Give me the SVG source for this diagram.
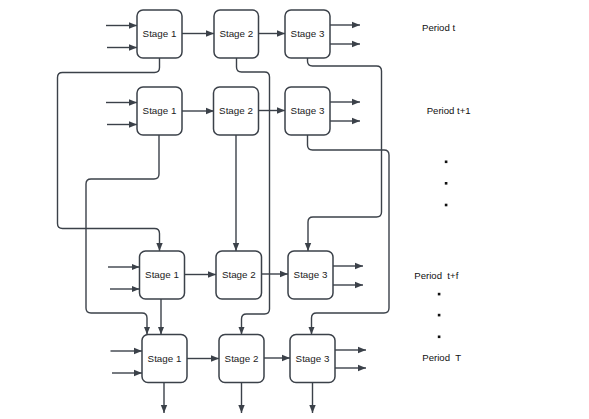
<svg xmlns="http://www.w3.org/2000/svg" width="589" height="419" viewBox="0 0 589 419">
<style>
.box{fill:#fff;stroke:#3b4149;stroke-width:1.5}
.lbl{font-family:"Liberation Sans",Arial,sans-serif;font-size:9.8px;fill:#1a1a1a;text-anchor:middle}
.per{font-family:"Liberation Sans",Arial,sans-serif;font-size:9.6px;fill:#111;white-space:pre}
.ln{fill:none;stroke:#3b4149;stroke-width:1.4;marker-end:url(#ah)}
.dot{fill:#111}
</style>
<defs>
<marker id="ah" markerUnits="userSpaceOnUse" markerWidth="8" markerHeight="8" viewBox="0 0 8 8" refX="8" refY="4" orient="auto">
<path d="M0,0.8 L8,4 L0,7.2 Z" fill="#3b4149"/>
</marker>
</defs>
<rect width="589" height="419" fill="#fff"/>
<g id="connectors">
<path class="ln" d="M106 25.5H137"/><path class="ln" d="M107 47.5H137"/>
<path class="ln" d="M182 33.5H214"/><path class="ln" d="M258 33.5H285"/>
<path class="ln" d="M330 25H360"/><path class="ln" d="M330 44H360"/>
<path class="ln" d="M106 102.5H137"/><path class="ln" d="M107 124.5H137"/>
<path class="ln" d="M182 111H214"/><path class="ln" d="M258 110.5H285"/>
<path class="ln" d="M330 102H360"/><path class="ln" d="M330 121H360"/>
<path class="ln" d="M108 267H139.5"/><path class="ln" d="M110 289H139.5"/>
<path class="ln" d="M184.5 274.5H216"/><path class="ln" d="M261.5 274H288"/>
<path class="ln" d="M333 266H363"/><path class="ln" d="M333 285H363"/>
<path class="ln" d="M110.5 351H142"/><path class="ln" d="M112 373H142"/>
<path class="ln" d="M187 358.5H219"/><path class="ln" d="M264 358H290"/>
<path class="ln" d="M335 350H366"/><path class="ln" d="M335 368H366"/>
<path class="ln" d="M164 382.5V413"/><path class="ln" d="M241.5 382.5V413"/><path class="ln" d="M312.5 382.5V413"/>
<path class="ln" d="M159.5 58V67.5Q159.5 72.5 154.5 72.5H62.5Q57.5 72.5 57.5 77.5V223.5Q57.5 228.5 62.5 228.5H154.5Q159.5 228.5 159.5 233.5V251"/>
<path class="ln" d="M236.5 58V67Q236.5 72 241.5 72H264.5Q269.5 72 269.5 77V309Q269.5 314 264.5 314H246.5Q241.5 314 241.5 319V334.5"/>
<path class="ln" d="M307.5 58V61Q307.5 66 312.5 66H376.5Q381.5 66 381.5 71V212Q381.5 217 376.5 217H313Q308 217 308 222V251"/>
<path class="ln" d="M159 135V174Q159 179 154 179H91Q86 179 86 184V308Q86 313 91 313H142Q147 313 147 318V334.5"/>
<path class="ln" d="M236 135V251"/>
<path class="ln" d="M307.5 135V145Q307.5 150 312.5 150H384Q389 150 389 155V308Q389 313 384 313H316.5Q311.5 313 311.5 318V334.5"/>
<path class="ln" d="M161 299V334.5"/>
</g>
<g id="r1s1"><rect class="box" x="137" y="10" width="45" height="48" rx="6"/><text class="lbl" x="159.5" y="37.3">Stage 1</text></g>
<g id="r1s2"><rect class="box" x="214" y="10" width="44.5" height="48" rx="6"/><text class="lbl" x="236.3" y="37.3">Stage 2</text></g>
<g id="r1s3"><rect class="box" x="285" y="10" width="45" height="48" rx="6"/><text class="lbl" x="307.5" y="37.3">Stage 3</text></g>
<g id="r2s1"><rect class="box" x="137" y="87" width="45" height="48" rx="6"/><text class="lbl" x="159.5" y="113.8">Stage 1</text></g>
<g id="r2s2"><rect class="box" x="213.5" y="87" width="45" height="48" rx="6"/><text class="lbl" x="236" y="113.8">Stage 2</text></g>
<g id="r2s3"><rect class="box" x="285" y="87" width="45" height="48" rx="6"/><text class="lbl" x="307.5" y="113.8">Stage 3</text></g>
<g id="r3s1"><rect class="box" x="139.5" y="251" width="45" height="48" rx="6"/><text class="lbl" x="162" y="277.8">Stage 1</text></g>
<g id="r3s2"><rect class="box" x="216" y="251" width="45.5" height="48" rx="6"/><text class="lbl" x="238.8" y="277.8">Stage 2</text></g>
<g id="r3s3"><rect class="box" x="288" y="251" width="45" height="48" rx="6"/><text class="lbl" x="310.5" y="277.8">Stage 3</text></g>
<g id="r4s1"><rect class="box" x="142" y="334.5" width="45" height="48" rx="6"/><text class="lbl" x="164.5" y="361.8">Stage 1</text></g>
<g id="r4s2"><rect class="box" x="219" y="334.5" width="45" height="48" rx="6"/><text class="lbl" x="241.5" y="361.8">Stage 2</text></g>
<g id="r4s3"><rect class="box" x="290" y="334.5" width="45" height="48" rx="6"/><text class="lbl" x="312.5" y="361.8">Stage 3</text></g>
<g id="periods">
<text class="per" x="422" y="31">Period t</text>
<text class="per" x="426.7" y="113.5">Period t+1</text>
<text class="per" x="414.3" y="278.5">Period  t+f</text>
<text class="per" x="422.3" y="361">Period  T</text>
<rect class="dot" x="444.8" y="160.5" width="2.6" height="2.6"/>
<rect class="dot" x="444.8" y="182" width="2.6" height="2.6"/>
<rect class="dot" x="444.8" y="203.7" width="2.6" height="2.6"/>
<rect class="dot" x="437.8" y="292.8" width="2.6" height="2.6"/>
<rect class="dot" x="437.8" y="313.8" width="2.6" height="2.6"/>
<rect class="dot" x="437.8" y="335.5" width="2.6" height="2.6"/>
</g>
</svg>
